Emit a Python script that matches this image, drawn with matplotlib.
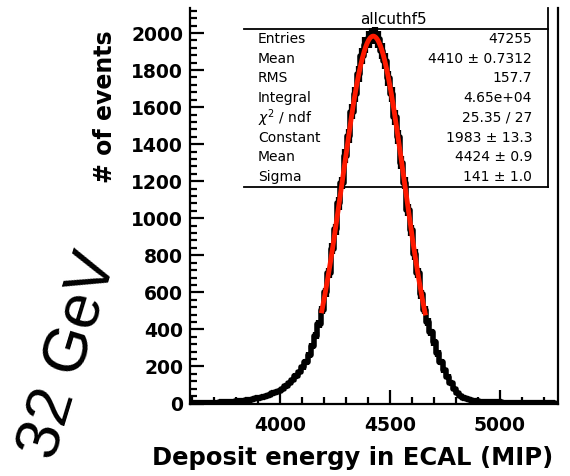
import numpy as np
import matplotlib
matplotlib.use('Agg')
from matplotlib import pyplot as plt
from matplotlib.ticker import MultipleLocator

# histogram: 15 MIP bins starting at 3585
bin_lo = 3585
bin_w = 15
counts = [2, 1, 2, 3, 2, 4, 3, 5, 4, 6, 7, 8,
          9, 10, 12, 13, 15, 17, 20,
          24, 28, 32, 36, 42,
          48, 55, 60, 68,
          78, 92, 110, 128, 150, 170,
          195, 225, 262, 310, 365, 430, 505, 600,
          705, 835, 940, 1080, 1190, 1335, 1445, 1575, 1670, 1780,
          1875, 1935, 1965, 1985,
          1990, 1965, 1905, 1850, 1755, 1670, 1545, 1440, 1300, 1190,
          1045, 935, 805, 705, 590, 505,
          440, 385, 330, 270, 225, 180, 145, 110, 80, 55, 38, 28, 22, 17,
          14, 12, 10, 9, 8, 8, 7, 6, 6, 5, 5, 5, 4, 4, 3, 3, 3, 2, 2, 2,
          1, 2, 1, 1, 1, 0]

# gaussian fit result from the stats box
fit_const = 1983
fit_mean = 4424
fit_sigma = 141
fit_range = (4190, 4660)

stat_names = ['Entries', 'Mean', 'RMS', 'Integral', r'$\chi^2$ / ndf',
              'Constant', 'Mean', 'Sigma']
stat_vals = ['47255', '4410 \u00b1 0.7312', '157.7', '4.65e+04', '25.35 / 27',
             '1983 \u00b1 13.3', '4424 \u00b1 0.9', '141 \u00b1 1.0']

W, H = 570, 476
fig = plt.figure(figsize=(W / 100, H / 100), dpi=100)

# axes frame in pixels
x0, x1, y0, y1 = 190, 558, 403.5, 8
ax = fig.add_axes([x0 / W, 1 - y0 / H, (x1 - x0) / W, (y0 - y1) / H])

def axpos(px, py):
    return (px - x0) / (x1 - x0), (y0 - py) / (y0 - y1)

counts = np.array(counts, dtype=float)
centers = bin_lo + bin_w * (np.arange(len(counts)) + 0.5)

ax.step(centers, counts, where='mid', color='black', lw=4, zorder=4)
ax.errorbar(centers, counts, xerr=bin_w / 2, yerr=np.sqrt(counts), fmt='none',
            ecolor='black', elinewidth=4.5, capsize=0, zorder=4)

xf = np.linspace(fit_range[0], fit_range[1], 300)
yf = fit_const * np.exp(-0.5 * ((xf - fit_mean) / fit_sigma) ** 2)
ax.plot(xf, yf, color='#ff1a00', lw=3.5, zorder=5)

ax.set_xlim(3590, 5265)
ax.set_ylim(0, 2135)

ax.xaxis.set_major_locator(MultipleLocator(500))
ax.xaxis.set_minor_locator(MultipleLocator(100))
ax.yaxis.set_major_locator(MultipleLocator(200))
ax.yaxis.set_minor_locator(MultipleLocator(40))
ax.tick_params(which='both', direction='in', top=False, right=False, width=1.6)
ax.tick_params(which='major', length=10)
ax.tick_params(which='minor', length=5)
ax.tick_params(axis='x', pad=9)
ax.tick_params(axis='y', pad=5)
for lab in ax.get_xticklabels() + ax.get_yticklabels():
    lab.set_fontsize(13.5)
    lab.set_fontweight('bold')
    lab.set_family('DejaVu Sans')

ax.spines['top'].set_visible(False)
for s in ['left', 'bottom', 'right']:
    ax.spines[s].set_linewidth(1.6)

# stats box
bx0, bx1, by0, by1 = 244, 548, 29, 187
for (pa, pb) in [((bx0, by0), (bx1, by0)), ((bx0, by1), (bx1, by1)), ((bx1, 8), (bx1, by1))]:
    a = axpos(*pa)
    b = axpos(*pb)
    ax.plot([a[0], b[0]], [a[1], b[1]], color='black', lw=1.3,
            transform=ax.transAxes, clip_on=False, zorder=1)
tx, ty = axpos(393, 19)
ax.text(tx, ty, 'allcuthf5', transform=ax.transAxes, ha='center', va='center',
        fontsize=11, zorder=3)
row_h = (by1 - by0) / len(stat_names)
for i, (n, v) in enumerate(zip(stat_names, stat_vals)):
    py = by0 + row_h * (i + 0.5)
    lx, ly = axpos(258, py)
    rx, _ = axpos(532, py)
    ax.text(lx, ly, n, transform=ax.transAxes, ha='left', va='center',
            fontsize=10, zorder=3)
    ax.text(rx, ly, v, transform=ax.transAxes, ha='right', va='center',
            fontsize=10, zorder=3)

# axis titles
fig.text(152 / W, 1 - 458 / H, 'Deposit energy in ECAL (MIP)', ha='left', va='center',
         fontsize=17.5, fontweight='bold')
fig.text(105 / W, 1 - 30 / H, '# of events', ha='center', va='top', rotation=90,
         fontsize=17, fontweight='bold')
fig.text(70 / W, 1 - 356 / H, '32 GeV', ha='center', va='center', rotation=73,
         rotation_mode='anchor', fontsize=45, family='Liberation Sans')

fig.savefig('out.png', dpi=100)
